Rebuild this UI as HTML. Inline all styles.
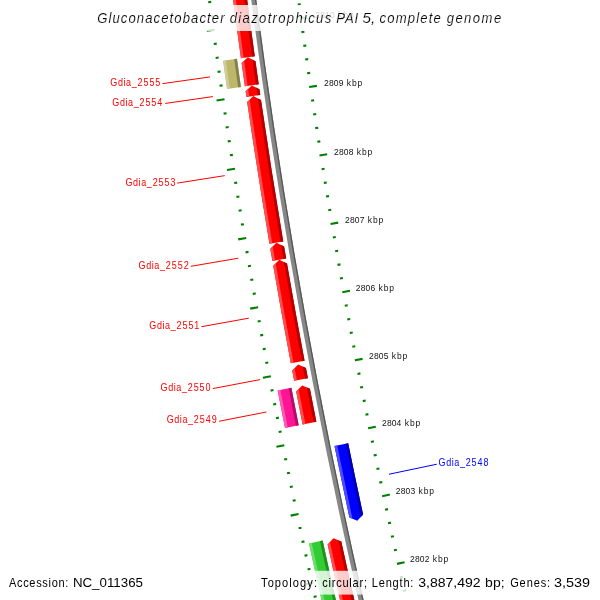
<!DOCTYPE html>
<html><head><meta charset="utf-8"><style>
html,body{margin:0;padding:0;background:#fff;}
svg{display:block;will-change:transform;}
text{font-family:"Liberation Sans",sans-serif;}
.fl{font-size:11px;stroke:none;}
.tk{font-size:8.5px;fill:#111;stroke:none;}
.ti{font-size:13.8px;font-style:italic;fill:#000;stroke:#fff;stroke-width:0.15px;}
.bt{font-size:13px;fill:#000;}
</style></head><body>
<svg width="600" height="600" viewBox="0 0 600 600">
<defs><clipPath id="c1"><path d="M229.05,-31.93 A6432.3,6432.3 0 0 0 240.93,58.23 L254.79,56.30 A6418.3,6418.3 0 0 1 242.94,-33.66 Z"/></clipPath><clipPath id="c2"><path d="M241.61,63.12 A6432.3,6432.3 0 0 0 244.89,86.28 L258.75,84.29 A6418.3,6418.3 0 0 1 255.48,61.18 L247.88,57.37 Z"/></clipPath><clipPath id="c3"><path d="M245.60,91.24 A6432.3,6432.3 0 0 0 246.42,96.91 L260.28,94.89 A6418.3,6418.3 0 0 1 259.46,89.24 L251.84,85.47 Z"/></clipPath><clipPath id="c4"><path d="M247.15,101.90 A6432.3,6432.3 0 0 0 269.47,243.74 L283.27,241.41 A6418.3,6418.3 0 0 1 261.00,99.88 L253.38,96.12 Z"/></clipPath><clipPath id="c5"><path d="M270.31,248.72 A6432.3,6432.3 0 0 0 272.39,260.90 L286.19,258.53 A6418.3,6418.3 0 0 1 284.11,246.38 L276.41,242.80 Z"/></clipPath><clipPath id="c6"><path d="M273.23,265.77 A6432.3,6432.3 0 0 0 290.82,363.32 L304.58,360.73 A6418.3,6418.3 0 0 1 287.02,263.39 L279.31,259.82 Z"/></clipPath><clipPath id="c7"><path d="M292.19,370.60 A6432.3,6432.3 0 0 0 294.15,380.86 L307.90,378.23 A6418.3,6418.3 0 0 1 305.95,367.99 L298.18,364.56 Z"/></clipPath><clipPath id="c8"><path d="M296.18,391.44 A6432.3,6432.3 0 0 0 302.64,424.49 L316.38,421.77 A6418.3,6418.3 0 0 1 309.92,388.79 L302.14,385.38 Z"/></clipPath><clipPath id="c9"><path d="M327.62,544.40 A6432.3,6432.3 0 0 0 347.12,630.92 L360.76,627.74 A6418.3,6418.3 0 0 1 341.29,541.42 L333.43,538.20 Z"/></clipPath><clipPath id="c10"><path d="M223.10,60.70 A6450.3,6450.3 0 0 0 227.08,88.91 L240.94,86.92 A6436.3,6436.3 0 0 1 236.97,58.78 Z"/></clipPath><clipPath id="c11"><path d="M277.65,390.43 A6450.3,6450.3 0 0 0 284.99,428.00 L298.72,425.27 A6436.3,6436.3 0 0 1 291.40,387.79 Z"/></clipPath><clipPath id="c12"><path d="M308.98,543.40 A6450.3,6450.3 0 0 0 329.59,635.00 L343.23,631.82 A6436.3,6436.3 0 0 1 322.66,540.42 Z"/></clipPath><clipPath id="c13"><path d="M334.49,445.99 A6405.3,6405.3 0 0 0 349.43,517.56 L357.29,520.78 L363.12,514.62 A6391.3,6391.3 0 0 1 348.21,443.20 Z"/></clipPath></defs>
<rect width="600" height="600" fill="#fff"/>
<path d="M322.85,623.62 L319.93,624.30 M409.08,603.73 L406.16,604.41 M319.71,609.94 L316.78,610.60 M405.99,590.23 L403.06,590.90 M316.60,596.24 L313.67,596.90 M402.92,576.73 L399.99,577.39 M313.51,582.54 L305.61,584.31 M404.56,562.17 L396.95,563.87 M310.46,568.83 L307.53,569.48 M396.87,549.69 L393.94,550.34 M307.44,555.12 L304.51,555.76 M393.89,536.17 L390.96,536.81 M304.45,541.40 L301.52,542.04 M390.94,522.64 L388.01,523.27 M301.49,527.67 L298.55,528.30 M388.02,509.10 L385.08,509.73 M298.55,513.94 L290.63,515.62 M389.82,494.56 L382.19,496.18 M295.65,500.20 L292.72,500.82 M382.26,482.00 L379.32,482.62 M292.78,486.45 L289.84,487.06 M379.43,468.44 L376.49,469.06 M289.94,472.70 L287.00,473.31 M376.62,454.88 L373.69,455.49 M287.12,458.94 L284.18,459.54 M373.85,441.31 L370.91,441.91 M284.34,445.18 L276.40,446.78 M375.81,426.79 L368.16,428.33 M281.59,431.41 L278.65,431.99 M368.39,414.15 L365.45,414.74 M278.87,417.63 L275.92,418.21 M365.70,400.57 L362.76,401.15 M276.17,403.85 L273.23,404.42 M363.05,386.97 L360.10,387.55 M273.51,390.06 L270.56,390.63 M360.42,373.38 L357.48,373.94 M270.88,376.27 L262.92,377.78 M362.54,358.88 L354.88,360.33 M268.27,362.47 L265.32,363.02 M355.26,346.16 L352.31,346.71 M265.70,348.66 L262.75,349.21 M352.72,332.54 L349.77,333.09 M263.16,334.85 L260.21,335.39 M350.21,318.92 L347.26,319.46 M260.64,321.04 L257.69,321.57 M347.73,305.30 L344.78,305.83 M258.16,307.22 L250.19,308.64 M350.01,290.82 L342.33,292.19 M255.71,293.39 L252.76,293.91 M342.87,278.03 L339.91,278.55 M253.29,279.56 L250.33,280.07 M340.48,264.38 L337.52,264.90 M250.89,265.72 L247.94,266.23 M338.12,250.74 L335.16,251.24 M248.53,251.88 L245.57,252.38 M335.79,237.08 L332.83,237.59 M246.20,238.03 L238.21,239.37 M338.22,222.63 L330.53,223.92 M243.90,224.18 L240.94,224.66 M331.22,209.76 L328.26,210.25 M241.63,210.32 L238.66,210.80 M328.98,196.10 L326.01,196.58 M239.38,196.46 L236.42,196.93 M326.76,182.42 L323.80,182.90 M237.17,182.59 L234.21,183.06 M324.58,168.75 L321.62,169.21 M234.99,168.72 L226.99,169.97 M327.17,154.32 L319.47,155.53 M232.84,154.84 L229.87,155.30 M320.31,141.38 L317.34,141.83 M230.72,140.96 L227.75,141.41 M318.22,127.68 L315.25,128.13 M228.63,127.07 L225.66,127.51 M316.16,113.99 L313.19,114.43 M226.57,113.18 L223.60,113.62 M314.12,100.29 L311.16,100.73 M224.54,99.28 L216.52,100.45 M316.87,85.90 L309.15,87.01 M222.54,85.39 L219.57,85.81 M310.15,72.88 L307.18,73.30 M220.57,71.48 L217.60,71.90 M308.21,59.16 L305.23,59.58 M218.63,57.57 L215.66,57.98 M306.29,45.44 L303.32,45.86 M216.72,43.66 L213.75,44.07 M304.41,31.72 L301.44,32.13 M214.84,29.74 L206.81,30.82 M307.31,17.36 L299.58,18.40 M212.99,15.82 L210.02,16.22 M300.73,4.27 L297.76,4.66 M211.17,1.90 L208.20,2.28 M298.94,-9.47 L295.96,-9.08 M209.38,-12.03 L206.41,-11.65 M297.17,-23.20 L294.20,-22.83" stroke="#008000" stroke-width="2.1" fill="none"/>
<path d="M249.72,-11.94 A6414.3,6414.3 0 0 0 362.13,615.93 L367.00,614.81 A6409.3,6409.3 0 0 1 254.68,-12.58 Z" fill="#878787"/>
<path d="M253.39,-12.41 A6410.6,6410.6 0 0 0 365.73,615.10 L367.00,614.81 A6409.3,6409.3 0 0 1 254.68,-12.58 Z" fill="#575757"/>
<path d="M229.05,-31.93 A6432.3,6432.3 0 0 0 240.93,58.23 L254.79,56.30 A6418.3,6418.3 0 0 1 242.94,-33.66 Z" fill="#ff0000"/>
<g clip-path="url(#c1)"><path d="M227.92,-32.92 A6433.3,6433.3 0 0 0 240.09,59.48 L243.86,58.95 A6429.5,6429.5 0 0 1 231.69,-33.39 Z" fill="#ff4d4d"/><path d="M240.03,-34.43 A6421.1,6421.1 0 0 0 252.18,57.79 L255.94,57.27 A6417.3,6417.3 0 0 1 243.80,-34.89 Z" fill="#b30000"/></g>
<path d="M241.61,63.12 A6432.3,6432.3 0 0 0 244.89,86.28 L258.75,84.29 A6418.3,6418.3 0 0 1 255.48,61.18 L247.88,57.37 Z" fill="#ff0000"/>
<g clip-path="url(#c2)"><path d="M239.80,57.36 A6433.3,6433.3 0 0 0 244.06,87.54 L247.82,87.00 A6429.5,6429.5 0 0 1 243.56,56.84 Z" fill="#ff4d4d"/><path d="M251.88,55.68 A6421.1,6421.1 0 0 0 256.14,85.80 L259.90,85.26 A6417.3,6417.3 0 0 1 255.65,55.16 Z" fill="#b30000"/></g>
<path d="M245.60,91.24 A6432.3,6432.3 0 0 0 246.42,96.91 L260.28,94.89 A6418.3,6418.3 0 0 1 259.46,89.24 L251.84,85.47 Z" fill="#ff0000"/>
<g clip-path="url(#c3)"><path d="M243.77,85.49 A6433.3,6433.3 0 0 0 245.59,98.16 L249.35,97.61 A6429.5,6429.5 0 0 1 247.53,84.95 Z" fill="#ff4d4d"/><path d="M255.84,83.76 A6421.1,6421.1 0 0 0 257.67,96.41 L261.43,95.86 A6417.3,6417.3 0 0 1 259.60,83.22 Z" fill="#b30000"/></g>
<path d="M247.15,101.90 A6432.3,6432.3 0 0 0 269.47,243.74 L283.27,241.41 A6418.3,6418.3 0 0 1 261.00,99.88 L253.38,96.12 Z" fill="#ff0000"/>
<g clip-path="url(#c4)"><path d="M245.30,96.16 A6433.3,6433.3 0 0 0 268.67,245.02 L272.42,244.38 A6429.5,6429.5 0 0 1 249.06,95.61 Z" fill="#ff4d4d"/><path d="M257.38,94.41 A6421.1,6421.1 0 0 0 280.70,242.98 L284.45,242.35 A6417.3,6417.3 0 0 1 261.14,93.86 Z" fill="#b30000"/></g>
<path d="M270.31,248.72 A6432.3,6432.3 0 0 0 272.39,260.90 L286.19,258.53 A6418.3,6418.3 0 0 1 284.11,246.38 L276.41,242.80 Z" fill="#ff0000"/>
<g clip-path="url(#c5)"><path d="M268.33,243.02 A6433.3,6433.3 0 0 0 271.59,262.17 L275.34,261.53 A6429.5,6429.5 0 0 1 272.08,242.39 Z" fill="#ff4d4d"/><path d="M280.36,240.99 A6421.1,6421.1 0 0 0 283.62,260.11 L287.36,259.46 A6417.3,6417.3 0 0 1 284.11,240.36 Z" fill="#b30000"/></g>
<path d="M273.23,265.77 A6432.3,6432.3 0 0 0 290.82,363.32 L304.58,360.73 A6418.3,6418.3 0 0 1 287.02,263.39 L279.31,259.82 Z" fill="#ff0000"/>
<g clip-path="url(#c6)"><path d="M271.23,260.07 A6433.3,6433.3 0 0 0 290.04,364.61 L293.78,363.91 A6429.5,6429.5 0 0 1 274.98,259.43 Z" fill="#ff4d4d"/><path d="M283.26,258.01 A6421.1,6421.1 0 0 0 302.03,362.35 L305.77,361.65 A6417.3,6417.3 0 0 1 287.00,257.37 Z" fill="#b30000"/></g>
<path d="M292.19,370.60 A6432.3,6432.3 0 0 0 294.15,380.86 L307.90,378.23 A6418.3,6418.3 0 0 1 305.95,367.99 L298.18,364.56 Z" fill="#ff0000"/>
<g clip-path="url(#c7)"><path d="M290.11,364.94 A6433.3,6433.3 0 0 0 293.37,382.15 L297.11,381.43 A6429.5,6429.5 0 0 1 293.84,364.24 Z" fill="#ff4d4d"/><path d="M302.09,362.68 A6421.1,6421.1 0 0 0 305.36,379.86 L309.09,379.14 A6417.3,6417.3 0 0 1 305.83,361.98 Z" fill="#b30000"/></g>
<path d="M296.18,391.44 A6432.3,6432.3 0 0 0 302.64,424.49 L316.38,421.77 A6418.3,6418.3 0 0 1 309.92,388.79 L302.14,385.38 Z" fill="#ff0000"/>
<g clip-path="url(#c8)"><path d="M294.07,385.79 A6433.3,6433.3 0 0 0 301.88,425.79 L305.61,425.05 A6429.5,6429.5 0 0 1 297.80,385.07 Z" fill="#ff4d4d"/><path d="M306.05,383.49 A6421.1,6421.1 0 0 0 313.85,423.41 L317.58,422.67 A6417.3,6417.3 0 0 1 309.79,382.77 Z" fill="#b30000"/></g>
<path d="M327.62,544.40 A6432.3,6432.3 0 0 0 347.12,630.92 L360.76,627.74 A6418.3,6418.3 0 0 1 341.29,541.42 L333.43,538.20 Z" fill="#ff0000"/>
<g clip-path="url(#c9)"><path d="M325.37,538.80 A6433.3,6433.3 0 0 0 346.40,632.24 L350.10,631.38 A6429.5,6429.5 0 0 1 329.09,537.99 Z" fill="#ff4d4d"/><path d="M337.30,536.21 A6421.1,6421.1 0 0 0 358.28,629.47 L361.99,628.61 A6417.3,6417.3 0 0 1 341.01,535.40 Z" fill="#b30000"/></g>
<path d="M223.10,60.70 A6450.3,6450.3 0 0 0 227.08,88.91 L240.94,86.92 A6436.3,6436.3 0 0 1 236.97,58.78 Z" fill="#bdb76b"/>
<g clip-path="url(#c10)"><path d="M221.95,59.72 A6451.3,6451.3 0 0 0 226.25,90.16 L230.01,89.62 A6447.5,6447.5 0 0 1 225.72,59.20 Z" fill="#d1cd97"/><path d="M234.04,58.05 A6439.1,6439.1 0 0 0 238.33,88.43 L242.09,87.89 A6435.3,6435.3 0 0 1 237.80,57.53 Z" fill="#84804b"/></g>
<path d="M277.65,390.43 A6450.3,6450.3 0 0 0 284.99,428.00 L298.72,425.27 A6436.3,6436.3 0 0 1 291.40,387.79 Z" fill="#ff1493"/>
<g clip-path="url(#c11)"><path d="M276.46,389.51 A6451.3,6451.3 0 0 0 284.23,429.30 L287.95,428.56 A6447.5,6447.5 0 0 1 280.19,388.80 Z" fill="#ff5ab3"/><path d="M288.44,387.21 A6439.1,6439.1 0 0 0 296.19,426.92 L299.92,426.18 A6435.3,6435.3 0 0 1 292.17,386.50 Z" fill="#b20e67"/></g>
<path d="M308.98,543.40 A6450.3,6450.3 0 0 0 329.59,635.00 L343.23,631.82 A6436.3,6436.3 0 0 1 322.66,540.42 Z" fill="#32cd32"/>
<g clip-path="url(#c12)"><path d="M307.76,542.51 A6451.3,6451.3 0 0 0 328.87,636.32 L332.57,635.46 A6447.5,6447.5 0 0 1 311.47,541.70 Z" fill="#70dc70"/><path d="M319.68,539.92 A6439.1,6439.1 0 0 0 340.75,633.55 L344.45,632.69 A6435.3,6435.3 0 0 1 323.40,539.11 Z" fill="#238f23"/></g>
<path d="M334.49,445.99 A6405.3,6405.3 0 0 0 349.43,517.56 L357.29,520.78 L363.12,514.62 A6391.3,6391.3 0 0 1 348.21,443.20 Z" fill="#0000ff"/>
<g clip-path="url(#c13)"><path d="M333.29,445.09 A6406.3,6406.3 0 0 0 349.70,523.56 L353.41,522.76 A6402.5,6402.5 0 0 1 337.01,444.34 Z" fill="#4d4dff"/><path d="M345.25,442.67 A6394.1,6394.1 0 0 0 361.63,520.99 L365.34,520.19 A6390.3,6390.3 0 0 1 348.97,441.91 Z" fill="#0000b3"/></g>
<path d="M210.02,76.93 L162.40,83.66 M212.83,96.59 L165.22,103.46 M224.74,175.65 L177.22,183.11 M238.25,258.23 L190.83,266.30 M248.75,318.19 L201.41,326.71 M260.11,379.61 L212.86,388.59 M266.35,412.02 L219.14,421.24" stroke="#ff0000" stroke-width="1" fill="none"/>
<path d="M389.01,474.22 L436.77,464.23" stroke="#0000ff" stroke-width="1" fill="none"/>
<text transform="translate(110.35,85.8) scale(0.82,1)" textLength="32.14" lengthAdjust="spacing" class="fl" fill="#ff0000">Gdia_</text>
<text transform="translate(137.55,85.8) scale(0.82,1)" textLength="27.84" lengthAdjust="spacing" class="fl" fill="#ff0000">2555</text>
<text transform="translate(112.35,105.7) scale(0.82,1)" textLength="32.14" lengthAdjust="spacing" class="fl" fill="#ff0000">Gdia_</text>
<text transform="translate(139.55,105.7) scale(0.82,1)" textLength="27.70" lengthAdjust="spacing" class="fl" fill="#ff0000">2554</text>
<text transform="translate(125.45,185.5) scale(0.82,1)" textLength="32.14" lengthAdjust="spacing" class="fl" fill="#ff0000">Gdia_</text>
<text transform="translate(152.65,185.5) scale(0.82,1)" textLength="27.87" lengthAdjust="spacing" class="fl" fill="#ff0000">2553</text>
<text transform="translate(138.55,269.0) scale(0.82,1)" textLength="32.14" lengthAdjust="spacing" class="fl" fill="#ff0000">Gdia_</text>
<text transform="translate(165.75,269.0) scale(0.82,1)" textLength="27.94" lengthAdjust="spacing" class="fl" fill="#ff0000">2552</text>
<text transform="translate(149.30,328.85) scale(0.82,1)" textLength="32.14" lengthAdjust="spacing" class="fl" fill="#ff0000">Gdia_</text>
<text transform="translate(176.50,328.85) scale(0.82,1)" textLength="27.92" lengthAdjust="spacing" class="fl" fill="#ff0000">2551</text>
<text transform="translate(160.55,390.6) scale(0.82,1)" textLength="32.14" lengthAdjust="spacing" class="fl" fill="#ff0000">Gdia_</text>
<text transform="translate(187.75,390.6) scale(0.82,1)" textLength="27.81" lengthAdjust="spacing" class="fl" fill="#ff0000">2550</text>
<text transform="translate(166.65,423.3) scale(0.82,1)" textLength="32.14" lengthAdjust="spacing" class="fl" fill="#ff0000">Gdia_</text>
<text transform="translate(193.85,423.3) scale(0.82,1)" textLength="27.90" lengthAdjust="spacing" class="fl" fill="#ff0000">2549</text>
<text transform="translate(438.55,466.0) scale(0.82,1)" textLength="32.14" lengthAdjust="spacing" class="fl" fill="#0000ff">Gdia_</text>
<text transform="translate(465.75,466.0) scale(0.82,1)" textLength="27.62" lengthAdjust="spacing" class="fl" fill="#0000ff">2548</text>
<text transform="translate(315.37,17.5) scale(1.0,1)" textLength="19.36" lengthAdjust="spacing" class="tk">2810</text>
<text transform="translate(338.03,17.5) scale(1.0,1)" textLength="15.63" lengthAdjust="spacing" class="tk">kbp</text>
<text transform="translate(324.07,85.8) scale(1.0,1)" textLength="19.43" lengthAdjust="spacing" class="tk">2809</text>
<text transform="translate(346.73,85.8) scale(1.0,1)" textLength="15.63" lengthAdjust="spacing" class="tk">kbp</text>
<text transform="translate(334.07,154.8) scale(1.0,1)" textLength="19.40" lengthAdjust="spacing" class="tk">2808</text>
<text transform="translate(356.73,154.8) scale(1.0,1)" textLength="15.63" lengthAdjust="spacing" class="tk">kbp</text>
<text transform="translate(345.07,222.9) scale(1.0,1)" textLength="19.45" lengthAdjust="spacing" class="tk">2807</text>
<text transform="translate(367.73,222.9) scale(1.0,1)" textLength="15.63" lengthAdjust="spacing" class="tk">kbp</text>
<text transform="translate(355.77,290.5) scale(1.0,1)" textLength="19.40" lengthAdjust="spacing" class="tk">2806</text>
<text transform="translate(378.43,290.5) scale(1.0,1)" textLength="15.63" lengthAdjust="spacing" class="tk">kbp</text>
<text transform="translate(369.07,358.5) scale(1.0,1)" textLength="19.38" lengthAdjust="spacing" class="tk">2805</text>
<text transform="translate(391.73,358.5) scale(1.0,1)" textLength="15.63" lengthAdjust="spacing" class="tk">kbp</text>
<text transform="translate(382.07,425.8) scale(1.0,1)" textLength="19.28" lengthAdjust="spacing" class="tk">2804</text>
<text transform="translate(404.73,425.8) scale(1.0,1)" textLength="15.63" lengthAdjust="spacing" class="tk">kbp</text>
<text transform="translate(395.77,493.5) scale(1.0,1)" textLength="19.40" lengthAdjust="spacing" class="tk">2803</text>
<text transform="translate(418.43,493.5) scale(1.0,1)" textLength="15.63" lengthAdjust="spacing" class="tk">kbp</text>
<text transform="translate(410.07,561.8) scale(1.0,1)" textLength="19.45" lengthAdjust="spacing" class="tk">2802</text>
<text transform="translate(432.73,561.8) scale(1.0,1)" textLength="15.63" lengthAdjust="spacing" class="tk">kbp</text>
<rect x="92" y="5" width="416" height="26" fill="#fff" fill-opacity="0.8"/>
<text transform="translate(97.15,22.8) scale(0.95,1)" textLength="134.11" lengthAdjust="spacing" class="ti">Gluconacetobacter</text>
<text transform="translate(229.76,22.8) scale(0.95,1)" textLength="106.85" lengthAdjust="spacing" class="ti">diazotrophicus</text>
<text transform="translate(336.30,22.8) scale(0.95,1)" textLength="23.00" lengthAdjust="spacing" class="ti">PAI</text>
<text x="362.34" y="22.8" textLength="13.19" lengthAdjust="spacingAndGlyphs" class="ti">5,</text>
<text transform="translate(379.57,22.8) scale(0.95,1)" textLength="64.44" lengthAdjust="spacing" class="ti">complete</text>
<text transform="translate(446.67,22.8) scale(0.95,1)" textLength="57.38" lengthAdjust="spacing" class="ti">genome</text>
<rect x="4" y="570.8" width="144" height="23.8" fill="#fff" fill-opacity="0.8"/>
<rect x="255" y="570.8" width="340" height="23.8" fill="#fff" fill-opacity="0.8"/>
<text transform="translate(8.98,586.9) scale(0.85,1)" textLength="69.80" lengthAdjust="spacing" class="bt">Accession:</text>
<text x="72.92" y="586.9" textLength="70.03" lengthAdjust="spacingAndGlyphs" class="bt">NC_011365</text>
<text transform="translate(261.05,586.9) scale(0.85,1)" textLength="65.83" lengthAdjust="spacing" class="bt">Topology:</text>
<text transform="translate(322.23,586.9) scale(0.85,1)" textLength="52.66" lengthAdjust="spacing" class="bt">circular;</text>
<text transform="translate(371.79,586.9) scale(0.85,1)" textLength="48.96" lengthAdjust="spacing" class="bt">Length:</text>
<text x="418.16" y="586.9" textLength="62.54" lengthAdjust="spacingAndGlyphs" class="bt">3,887,492</text>
<text x="485.10" y="586.9" textLength="19.46" lengthAdjust="spacingAndGlyphs" class="bt">bp;</text>
<text transform="translate(510.14,586.9) scale(0.85,1)" textLength="47.13" lengthAdjust="spacing" class="bt">Genes:</text>
<text x="553.95" y="586.9" textLength="36.03" lengthAdjust="spacingAndGlyphs" class="bt">3,539</text>
</svg></body></html>
